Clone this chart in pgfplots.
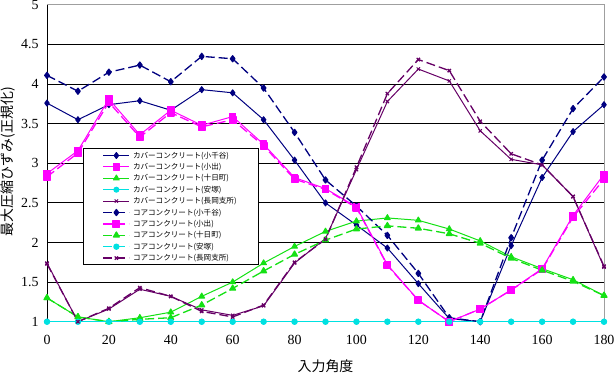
\documentclass[border=0pt]{standalone}
\usepackage{pgfplots}
\usepackage{pgfplotstable}
\pgfplotsset{compat=1.18}
\usepackage{fontspec}
\setmainfont{Liberation Serif}
\newfontfamily\jp{Noto Sans CJK JP}
\definecolor{cnavy}{RGB}{0,0,128}
\definecolor{cmag}{RGB}{255,0,255}
\definecolor{cgreen}{RGB}{20,225,20}
\definecolor{ccyan}{RGB}{0,225,225}
\definecolor{cpurple}{RGB}{102,0,102}
\pgfplotstableread{
ang c1 c2 c3 c4 c5 k1 k2 k3 k4 k5
0   3.76 2.87 1.30 1.00 1.74 4.11 2.83 1.30 1.00 1.73
10  3.55 3.16 1.06 1.00 1.00 3.91 3.13 1.06 1.00 1.00
20  3.74 3.81 1.00 1.00 1.16 4.15 3.77 1.00 1.00 1.17
30  3.79 3.36 1.05 1.00 1.41 4.24 3.33 1.03 1.00 1.43
40  3.67 3.67 1.12 1.00 1.32 4.03 3.64 1.05 1.00 1.32
50  3.93 3.48 1.32 1.00 1.15 4.35 3.46 1.21 1.00 1.13
60  3.89 3.59 1.50 1.00 1.08 4.32 3.55 1.42 1.00 1.06
70  3.55 3.24 1.74 1.00 1.20 3.95 3.22 1.64 1.00 1.21
80  3.04 2.82 1.95 1.00 1.74 3.39 2.80 1.85 1.00 1.75
90  2.50 2.68 2.14 1.00 2.05 2.79 2.67 2.03 1.00 2.04
100 2.22 2.45 2.27 1.00 2.92 2.46 2.44 2.17 1.00 2.95
110 1.93 1.72 2.31 1.00 3.78 2.09 1.71 2.21 1.00 3.88
120 1.48 1.27 2.28 1.00 4.19 1.61 1.27 2.18 1.00 4.31
130 1.04 1.00 2.17 1.00 4.04 1.05 1.00 2.11 1.00 4.17
140 1.00 1.16 2.02 1.00 3.41 1.00 1.16 1.99 1.00 3.53
150 1.96 1.40 1.82 1.00 3.05 2.06 1.40 1.80 1.00 3.12
160 2.82 1.67 1.67 1.00 2.98 3.04 1.66 1.65 1.00 2.98
170 3.40 2.34 1.53 1.00 2.58 3.69 2.32 1.51 1.00 2.58
180 3.74 2.86 1.33 1.00 1.69 4.09 2.80 1.33 1.00 1.70
}\data
\begin{document}
\begin{tikzpicture}
\useasboundingbox (0,0) rectangle (616bp,373bp);
\begin{axis}[
  at={(47bp,51.3bp)}, anchor=south west,
  width=557bp, height=316.8bp, scale only axis,
  xmin=0, xmax=180, ymin=1, ymax=5,
  xtick={0,20,...,180},
  ytick={1,1.5,2,2.5,3,3.5,4,4.5,5},
  yticklabels={1,1.5,2,2.5,3,3.5,4,4.5,5},
  /pgf/number format/assume math mode=true,
  major tick length=0pt,
  ticklabel style={font=\fontsize{14}{16}\selectfont},
  yticklabel style={xshift=-5bp},
  xticklabel style={yshift=-10.5bp},
  ymajorgrids,
  grid style={black, line width=0.8bp},
  axis line style={draw=gray!75, line width=0.8bp},
  xlabel={\jp 入力角度},
  ylabel={\jp 最大圧縮ひずみ(正規化)},
  label style={font=\fontsize{14}{16}\selectfont},
  xlabel style={at={(axis description cs:0.5,-0.139)}, anchor=center},
  ylabel style={at={(axis description cs:-0.0700,0.505)}, anchor=center},
  legend image code/.code={\draw[mark repeat=2,mark phase=2,#1] plot coordinates {(0bp,0bp) (13bp,0bp) (26bp,0bp)};},
  legend style={at={(0.0652,0.547)}, anchor=north west, draw=black, fill=white,
    line width=0.8bp, inner xsep=19bp, inner ysep=1bp, row sep=0pt,
    font=\jp\fontsize{7.6}{9}\selectfont,
    nodes={inner xsep=3bp, inner ysep=1.2bp, text height=7bp, text depth=2bp, text width=103bp, align=left}},
  legend cell align=left,
  every axis plot/.append style={line join=round},
]
\draw[black, line width=0.9bp] (rel axis cs:0,0) -- (rel axis cs:0,1);
\draw[black, line width=0.9bp] (rel axis cs:0,0) -- (rel axis cs:1,0);
\addplot[cnavy, line width=1bp, mark=diamond*, mark size=3bp, mark options={solid, fill=cnavy}] table[x=ang,y=c1]{\data};
\addlegendentry{カバーコンクリート(小千谷)}
\addplot[cmag, line width=1bp, mark=square*, mark size=3.3bp, mark options={solid, fill=cmag}] table[x=ang,y=c2]{\data};
\addlegendentry{カバーコンクリート(小出)}
\addplot[cgreen, line width=1bp, mark=triangle*, mark size=3.3bp, mark options={solid, fill=cgreen}] table[x=ang,y=c3]{\data};
\addlegendentry{カバーコンクリート(十日町)}
\addplot[ccyan, line width=1bp, mark=*, mark size=2.5bp, mark options={solid, fill=ccyan}] table[x=ang,y=c4]{\data};
\addlegendentry{カバーコンクリート(安塚)}
\addplot[cpurple, line width=1bp, mark=x, mark size=2.3bp, mark options={solid}] table[x=ang,y=c5]{\data};
\addlegendentry{カバーコンクリート(長岡支所)}
\addplot[cnavy, line width=1.3bp, dash pattern=on 9bp off 4bp, mark=diamond*, mark size=3bp, mark options={solid, fill=cnavy}] table[x=ang,y=k1]{\data};
\addlegendentry{コアコンクリート(小千谷)}
\addplot[cmag, line width=1.3bp, dash pattern=on 9bp off 4bp, mark=square*, mark size=3.3bp, mark options={solid, fill=cmag}] table[x=ang,y=k2]{\data};
\addlegendentry{コアコンクリート(小出)}
\addplot[cgreen, line width=1.3bp, dash pattern=on 9bp off 4bp, mark=triangle*, mark size=3.3bp, mark options={solid, fill=cgreen}] table[x=ang,y=k3]{\data};
\addlegendentry{コアコンクリート(十日町)}
\addplot[ccyan, line width=1.3bp, dash pattern=on 9bp off 4bp, mark=*, mark size=2.5bp, mark options={solid, fill=ccyan}] table[x=ang,y=k4]{\data};
\addlegendentry{コアコンクリート(安塚)}
\addplot[cpurple, line width=1.3bp, dash pattern=on 9bp off 4bp, mark=x, mark size=2.3bp, mark options={solid}] table[x=ang,y=k5]{\data};
\addlegendentry{コアコンクリート(長岡支所)}
\end{axis}
\end{tikzpicture}
\end{document}
